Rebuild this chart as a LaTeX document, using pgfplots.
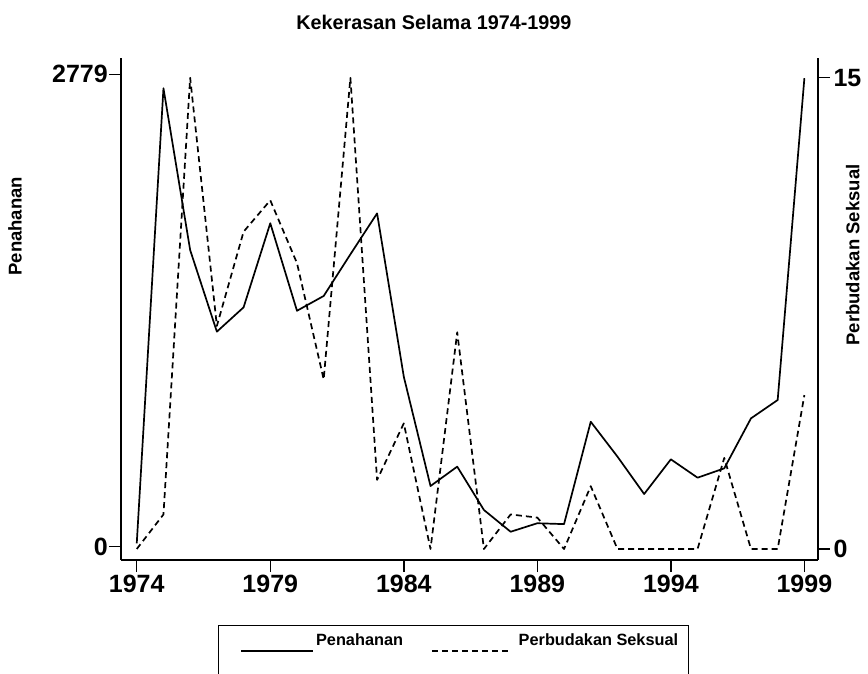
\documentclass[border=0pt]{standalone}
\usepackage{fontspec}
\setmainfont{Liberation Sans}
\usepackage{pgfplots}
\usepackage{pgfplotstable}
\pgfplotsset{compat=1.18}
\pgfplotsset{
  legsolid/.style={legend image code/.code={\path (-14pt,-40pt); \draw[##1] (0pt,-11pt) -- (72pt,-11pt);}},
  legdash/.style={legend image code/.code={\path (-14pt,-40pt) (84pt,0pt); \draw[##1] (0pt,-11pt) -- (79pt,-11pt);}},
}
\pgfplotstableread{
year pen
1974 20
1975 2697
1976 1745
1977 1265
1978 1408
1979 1903
1980 1388
1981 1475
1982 1720
1983 1961
1984 1000
1985 357
1986 471
1987 216
1988 88
1989 138
1990 133
1991 735
1992 530
1993 310
1994 514
1995 406
1996 461
1997 755
1998 863
1999 2756
}\pentable
\pgfplotstableread{
year pbs
1974 0
1975 1.1
1976 15
1977 7.1
1978 10.1
1979 11.1
1980 9.1
1981 5.4
1982 15
1983 2.2
1984 4
1985 0
1986 6.9
1987 0
1988 1.1
1989 1
1990 0
1991 2
1992 0
1993 0
1994 0
1995 0
1996 2.9
1997 0
1998 0
1999 4.9
}\pbstable
\begin{document}
\begin{tikzpicture}
\useasboundingbox (0,0) rectangle (868pt,673pt);
\pgfplotsset{
  common/.style={
    scale only axis, width=697pt, height=502pt,
    at={(121pt,113pt)}, anchor=south west,
    xmin=1973.41, xmax=1999.51,
    axis line style={-, line width=1.4pt},
    tick style={line width=1.4pt, black},
    major tick length=12pt, tick align=outside,
    /pgf/number format/assume math mode=true,
    /pgf/number format/1000 sep={},
    tick label style={font=\fontsize{25}{25}\selectfont\bfseries},
  }
}
\begin{axis}[common,
  axis x line*=bottom, axis y line*=left,
  xtick={1974,1979,...,1999}, ytick={0,2779},
  ymin=-78.2, ymax=2874.9,
  yticklabel style={inner xsep=1pt},
  title={Kekerasan Selama 1974-1999},
  title style={at={(axis description cs:0.449,1.0572)}, anchor=base, yshift=-6pt, font=\fontsize{19.8}{19.8}\selectfont\bfseries},
  ylabel={Penahanan},
  every axis y label/.style={at={(axis description cs:-0.152,0.665)}, rotate=90, anchor=center, font=\fontsize{18.5}{18.5}\selectfont\bfseries},
  legend style={at={(axis description cs:0.139,-0.1295)}, anchor=north west,
    draw=black, line width=1pt, legend columns=2,
    inner xsep=8pt, inner ysep=6pt,
    font=\fontsize{16.3}{16.3}\selectfont\bfseries,
    /tikz/every even column/.append style={column sep=12pt}},
]
\addplot[black, line width=1.7pt, line join=round, legsolid]
  table[x=year, y=pen] {\pentable};
\addlegendentry{Penahanan}
\addlegendimage{black, line width=1.7pt, dash pattern=on 6pt off 4pt, legdash}
\addlegendentry{Perbudakan Seksual}
\end{axis}
\begin{axis}[common,
  axis x line=none, axis y line*=right,
  ytick={0,15}, ymin=-0.35, ymax=15.63,
  ylabel={Perbudakan Seksual},
  every axis y label/.style={at={(axis description cs:1.050,0.6076)}, rotate=90, anchor=center, font=\fontsize{18.5}{18.5}\selectfont\bfseries},
]
\addplot[black, line width=1.7pt, dash pattern=on 6pt off 4pt, line join=round]
  table[x=year, y=pbs] {\pbstable};
\end{axis}
\end{tikzpicture}
\end{document}
